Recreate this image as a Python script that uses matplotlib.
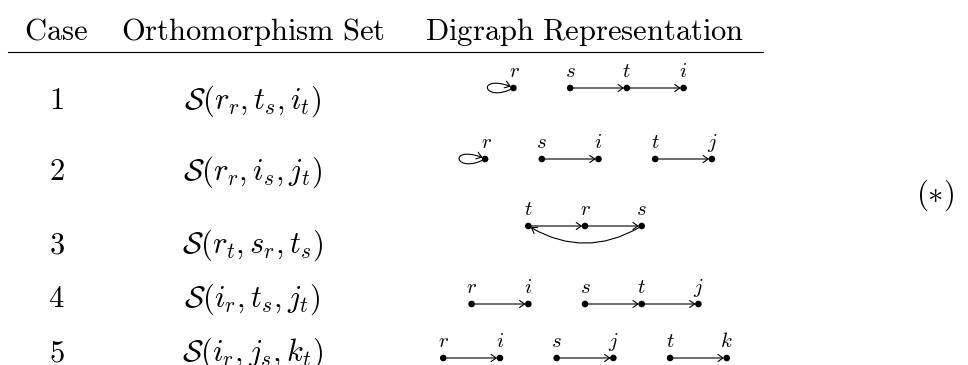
import matplotlib
matplotlib.use("Agg")
import matplotlib.pyplot as plt
from matplotlib.patches import Circle, FancyArrowPatch, ArrowStyle
from matplotlib.path import Path

plt.rcParams['mathtext.fontset'] = 'cm'

# table data
headers = ['Case', 'Orthomorphism\\ Set', 'Digraph\\ Representation']
cases = ['1', '2', '3', '4', '5']
sets = [r'\mathcal{S}(r_r, t_s, i_t)',
        r'\mathcal{S}(r_r, i_s, j_t)',
        r'\mathcal{S}(r_t, s_r, t_s)',
        r'\mathcal{S}(i_r, t_s, j_t)',
        r'\mathcal{S}(i_r, j_s, k_t)']
# each digraph: chains of vertices (edges go left to right)
chains = [[['r'], ['s', 't', 'i']],
          [['r'], ['s', 'i'], ['t', 'j']],
          [['t', 'r', 's']],
          [['r', 'i'], ['s', 't', 'j']],
          [['r', 'i'], ['s', 'j'], ['t', 'k']]]
loops = [['r'], ['r'], [], [], []]
back_edges = [[], [], [('s', 't')], [], []]
tag = r'(\ast)'

# layout (pixels)
W, H = 968, 365
col_x = [56.5, 252.5, 585]
header_y = 40
rule_y = 52
text_y = [109, 180, 253, 307, 361]
node_y = [88, 159, 226, 304, 358]
step = 56.7
loop_w = 27
fs = 22
fs_lab = 15

fig = plt.figure(figsize=(W / 100, H / 100), dpi=100)
ax = fig.add_axes([0, 0, 1, 1])
ax.set_xlim(0, W)
ax.set_ylim(H, 0)
ax.axis('off')

for x, h in zip(col_x, headers):
    ax.text(x, header_y, r'$\mathrm{%s}$' % h, fontsize=fs, ha='center', va='baseline')
ax.plot([8, 763], [rule_y, rule_y], color='black', lw=0.8)

arrow = ArrowStyle('->', head_length=0.5, head_width=0.35)

for i in range(len(cases)):
    ax.text(col_x[0], text_y[i], r'$\mathrm{%s}$' % cases[i], fontsize=fs, ha='center', va='baseline')
    ax.text(col_x[1], text_y[i], '$' + sets[i] + '$', fontsize=fs, ha='center', va='baseline')

    names = [v for c in chains[i] for v in c]
    n = len(names)
    left = loop_w if names[0] in loops[i] else 0
    x0 = col_x[2] - ((n - 1) * step - left) / 2
    y = node_y[i]
    pos = {v: (x0 + k * step, y) for k, v in enumerate(names)}

    for v, (px, py) in pos.items():
        ax.add_patch(Circle((px, py), 2.6, color='black', zorder=3))
        dx = 1 if v in loops[i] else 0
        ax.text(px + dx, py - 11, '$' + v + '$', fontsize=fs_lab, ha='center', va='baseline')

    for c in chains[i]:
        for a, b in zip(c[:-1], c[1:]):
            ax.add_patch(FancyArrowPatch(pos[a], pos[b], arrowstyle=arrow, mutation_scale=7.2,
                                         shrinkA=0, shrinkB=2, lw=0.8, color='black'))
    for a, b in back_edges[i]:
        ax.add_patch(FancyArrowPatch(pos[a], pos[b], arrowstyle=arrow, mutation_scale=7.2,
                                     connectionstyle='arc3,rad=-0.3',
                                     shrinkA=2, shrinkB=2, lw=0.8, color='black'))
    for v in loops[i]:
        px, py = pos[v]
        verts = [(px, py), (px - 30, py + 16), (px - 38, py - 14), (px - 2.5, py - 1.5)]
        p = Path(verts, [Path.MOVETO, Path.CURVE4, Path.CURVE4, Path.CURVE4])
        ax.add_patch(FancyArrowPatch(path=p, arrowstyle=arrow, mutation_scale=7.2,
                                     lw=0.8, color='black'))

ax.text(935, 203, '$' + tag + '$', fontsize=fs, ha='center', va='baseline')

fig.savefig('out.png', dpi=100)
